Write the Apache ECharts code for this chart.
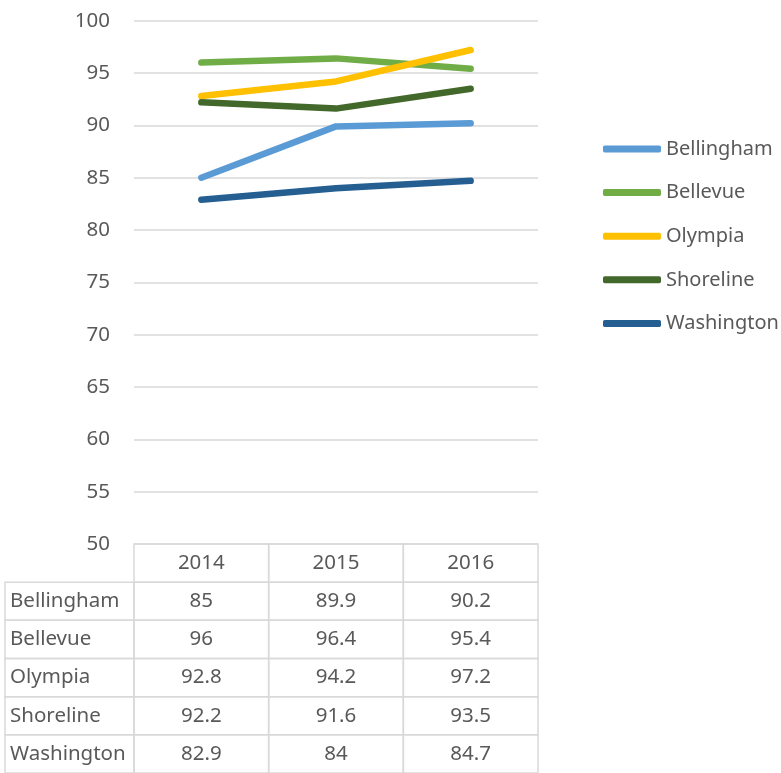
<!DOCTYPE html>
<html>
<head>
<meta charset="utf-8">
<script src="https://cdn.jsdelivr.net/npm/echarts@6/dist/echarts.min.js"></script>
<style>html,body{margin:0;padding:0;background:#fff;}#c{width:781px;height:773px;}</style>
</head>
<body>
<div id="c"></div>
<script>
const years = ['2014', '2015', '2016'];
const seriesNames = ['Bellingham', 'Bellevue', 'Olympia', 'Shoreline', 'Washington'];
const bellingham = [85, 89.9, 90.2];
const bellevue = [96, 96.4, 95.4];
const olympia = [92.8, 94.2, 97.2];
const shoreline = [92.2, 91.6, 93.5];
const washington = [82.9, 84, 84.7];
const yTicks = [50, 55, 60, 65, 70, 75, 80, 85, 90, 95, 100];

const values = [bellingham, bellevue, olympia, shoreline, washington];
const colors = ['#5B9BD5', '#70AD47', '#FFC000', '#43682B', '#255E91'];
const FONT = 'Noto Sans';
const FS = 20.5;
const TXT = '#595959';
const BORDER = '#d9d9d9';
const LABEL_W = 0.958; // label column width in column units

const chart = echarts.init(document.getElementById('c'));

// table cells: [xStart, xEnd, row, text, align]
const cells = [];
years.forEach((y, i) => cells.push([i, i + 1, 0, y, 'center']));
seriesNames.forEach((n, r) => {
  cells.push([-LABEL_W, 0, r + 1, n, 'left']);
  values[r].forEach((v, i) => cells.push([i, i + 1, r + 1, String(v), 'center']));
});

const lineSeries = seriesNames.map((n, i) => ({
  name: n, type: 'line', data: values[i], xAxisIndex: 0, yAxisIndex: 0,
  symbol: 'none', color: colors[i],
  lineStyle: { width: 6.5, cap: 'round', join: 'round', color: colors[i] },
  emphasis: { disabled: true }
}));

chart.setOption({
  animation: false,
  textStyle: { fontFamily: FONT },
  grid: [
    { left: 134, right: 243, top: 20.7, bottom: 229 },
    { left: 5, right: 243, top: 544, bottom: 0 }
  ],
  xAxis: [
    { type: 'category', data: years, gridIndex: 0, boundaryGap: true,
      axisLine: { show: false }, axisTick: { show: false }, axisLabel: { show: false } },
    { type: 'value', gridIndex: 1, min: -LABEL_W, max: 3, show: false }
  ],
  yAxis: [
    { type: 'value', gridIndex: 0, min: yTicks[0], max: yTicks[yTicks.length - 1], interval: 5,
      axisLine: { show: false }, axisTick: { show: false },
      axisLabel: { color: TXT, fontSize: FS, fontFamily: FONT, margin: 24 },
      splitLine: { lineStyle: { color: BORDER, width: 1.5 } } },
    { type: 'value', gridIndex: 1, min: 0, max: 6, inverse: true, show: false }
  ],
  legend: {
    orient: 'vertical', left: 603, top: 139, padding: 0,
    itemWidth: 58, itemHeight: 7, itemGap: 23.6,
    icon: 'roundRect',
    textStyle: { color: TXT, fontSize: 20, fontFamily: FONT },
    data: seriesNames
  },
  series: lineSeries.concat([{
    type: 'custom', xAxisIndex: 1, yAxisIndex: 1, data: cells, silent: true,
    renderItem: function (params, api) {
      const x0 = api.value(0), x1 = api.value(1), r = api.value(2);
      const d = cells[params.dataIndex];
      const p0 = api.coord([x0, r]);
      const p1 = api.coord([x1, r + 1]);
      const tx = d[4] === 'left' ? p0[0] + 5 : (p0[0] + p1[0]) / 2;
      return {
        type: 'group',
        children: [
          { type: 'rect', shape: { x: p0[0], y: p0[1], width: p1[0] - p0[0], height: p1[1] - p0[1] },
            style: { fill: 'none', stroke: BORDER, lineWidth: 1.5 } },
          { type: 'text', style: { x: tx, y: (p0[1] + p1[1]) / 2, text: d[3], fill: TXT,
            font: FS + 'px "' + FONT + '"', align: d[4], verticalAlign: 'middle' } }
        ]
      };
    }
  }])
});
</script>
</body>
</html>
